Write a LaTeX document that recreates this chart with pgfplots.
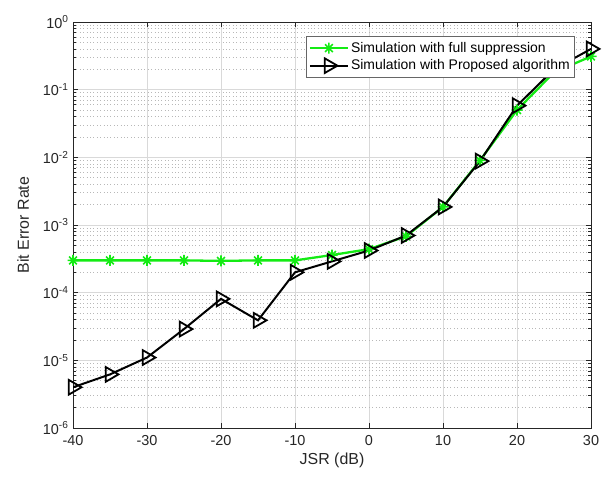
\documentclass[border=0pt]{standalone}
\usepackage{pgfplots}
\pgfplotsset{compat=1.18}
\usepackage{fontspec}
\setmainfont{Liberation Sans}

\definecolor{mgreen}{RGB}{20,235,20}
\definecolor{axgray}{RGB}{38,38,38}

% MATLAB-style '*' marker: plus and cross
\pgfdeclareplotmark{mstar}{%
  \pgfpathmoveto{\pgfqpoint{-\pgfplotmarksize}{0pt}}\pgfpathlineto{\pgfqpoint{\pgfplotmarksize}{0pt}}%
  \pgfpathmoveto{\pgfqpoint{0pt}{-\pgfplotmarksize}}\pgfpathlineto{\pgfqpoint{0pt}{\pgfplotmarksize}}%
  \pgfpathmoveto{\pgfqpoint{-0.707\pgfplotmarksize}{-0.707\pgfplotmarksize}}\pgfpathlineto{\pgfqpoint{0.707\pgfplotmarksize}{0.707\pgfplotmarksize}}%
  \pgfpathmoveto{\pgfqpoint{-0.707\pgfplotmarksize}{0.707\pgfplotmarksize}}\pgfpathlineto{\pgfqpoint{0.707\pgfplotmarksize}{-0.707\pgfplotmarksize}}%
  \pgfusepathqstroke}

\begin{document}
\begin{tikzpicture}
\begin{semilogyaxis}[
    scale only axis,
    width=518bp, height=406bp,
    xmin=-40, xmax=30,
    ymin=1e-6, ymax=1,
    xtick={-40,-30,...,30},
    xticklabels={-40,-30,-20,-10,0,10,20,30},
    ytick={1e-6,1e-5,1e-4,1e-3,1e-2,1e-1,1},
    yticklabels={10\textsuperscript{-6},10\textsuperscript{-5},10\textsuperscript{-4},10\textsuperscript{-3},10\textsuperscript{-2},10\textsuperscript{-1},10\textsuperscript{0}},
    ticklabel style={font=\fontsize{14.5}{17}\selectfont, text=axgray},
    xticklabel style={yshift=-4bp},
    yticklabel style={xshift=-1bp},
    xlabel={JSR (dB)}, ylabel={Bit Error Rate},
    label style={font=\fontsize{16}{19}\selectfont, text=axgray},
    ylabel style={yshift=7bp},
    axis line style={axgray, line width=0.7pt},
    tick style={axgray, line width=0.6pt},
    tick align=inside,
    major tick length=5bp, minor tick length=3bp,
    grid=both,
    major grid style={draw=black!15, line width=0.6pt},
    minor y grid style={draw=black!28, dash pattern=on 0.8bp off 2.6bp, line width=0.7pt},
    minor x tick num=0,
    legend cell align=left,
    legend style={at={(1,1)}, anchor=north east, xshift=-16bp, yshift=-14bp,
        draw=black!60, line width=0.6pt, fill=white,
        font=\fontsize{14}{17}\selectfont, inner xsep=3bp, inner ysep=4bp, row sep=2bp},
    legend image code/.code={%
        \draw[mark repeat=2, mark phase=2, #1] plot coordinates {(0bp,0bp) (19bp,0bp) (38bp,0bp)};},
]
\addplot[color=mgreen, line width=2.3pt, mark=mstar, mark size=5.5bp,
    mark options={line width=1.6pt}] coordinates {
    (-40,3e-4) (-35,3e-4) (-30,3e-4) (-25,3e-4) (-20,2.95e-4) (-15,3e-4)
    (-10,3e-4) (-5,3.6e-4) (0,4.4e-4) (5,6.8e-4) (10,1.85e-3) (15,9e-3)
    (20,5e-2) (25,1.8e-1) (30,3.1e-1)
};
\addlegendentry{Simulation with full suppression}
\addplot[color=black, line width=2pt, mark=triangle, mark size=8.5bp,
    mark options={rotate=-90, line width=1.8pt, fill=none}] coordinates {
    (-40,4e-6) (-35,6.2e-6) (-30,1.1e-5) (-25,2.9e-5) (-20,8.1e-5) (-15,3.9e-5)
    (-10,2e-4) (-5,2.9e-4) (0,4.2e-4) (5,7e-4) (10,1.85e-3) (15,8.8e-3)
    (20,5.8e-2) (25,2e-1) (30,4e-1)
};
\addlegendentry{Simulation with Proposed algorithm}
\end{semilogyaxis}
\path ([shift={(-73bp,-56bp)}]current axis.south west) rectangle ([shift={(16bp,22bp)}]current axis.north east);
\end{tikzpicture}
\end{document}
